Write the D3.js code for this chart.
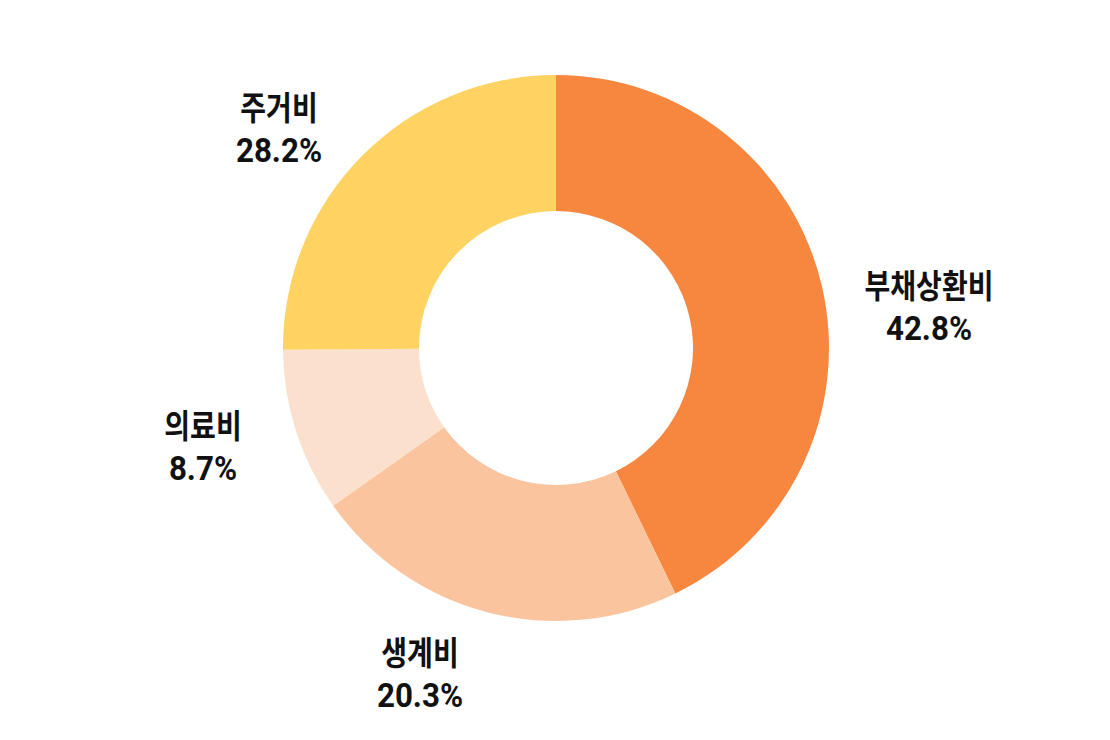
<!DOCTYPE html>
<html>
<head>
<meta charset="utf-8">
<script src="https://cdn.jsdelivr.net/npm/d3@7"></script>
<style>
  body { margin: 0; background: #fff; }
  svg text { font-weight: 700; fill: #111; }
  .name { font-family: "Noto Sans CJK KR", "Noto Sans", sans-serif; }
  .pct { font-family: Roboto, "Noto Sans", sans-serif; }
</style>
</head>
<body>
<svg width="1110" height="740"></svg>
<script>
const categories = ["부채상환비", "생계비", "의료비", "주거비"];
// slice sizes as drawn in the picture (clockwise from 12 o'clock)
const shares = [42.8, 22.4, 9.7, 25.1];
const pctLabels = ["42.8%", "20.3%", "8.7%", "28.2%"];
const colors = ["#F7873F", "#F9C49E", "#FBE1CD", "#FED362"];

const svg = d3.select("svg");
const cx = 556, cy = 348;
const outerR = 273, innerR = 137;

const data = categories.map((c, i) => ({ name: c, value: shares[i], label: pctLabels[i], color: colors[i] }));

const pie = d3.pie().sort(null).value(d => d.value);
const arc = d3.arc().innerRadius(innerR).outerRadius(outerR);
const arcs = pie(data);

const g = svg.append("g").attr("transform", `translate(${cx},${cy})`);

g.selectAll("path")
  .data(arcs)
  .enter().append("path")
  .attr("d", arc)
  .attr("fill", d => d.data.color);

// label anchors relative to centre (hand placed like the original), at the % baseline
const labelOffsets = [[373, -8], [-136, 359], [-353, 132], [-277, -186]];

const lbl = g.selectAll("g.lbl")
  .data(arcs)
  .enter().append("g")
  .attr("class", "lbl")
  .attr("transform", (d, i) => `translate(${labelOffsets[i][0]},${labelOffsets[i][1]})`);

lbl.append("text")
  .attr("class", "name")
  .attr("text-anchor", "middle")
  .attr("transform", "translate(0,-42) scale(0.85,1)")
  .style("font-size", "33px")
  .text(d => d.data.name);

lbl.append("text")
  .attr("class", "pct")
  .attr("text-anchor", "middle")
  .attr("transform", "scale(0.95,1)")
  .style("font-size", "33px")
  .text(d => d.data.label);
</script>
</body>
</html>
